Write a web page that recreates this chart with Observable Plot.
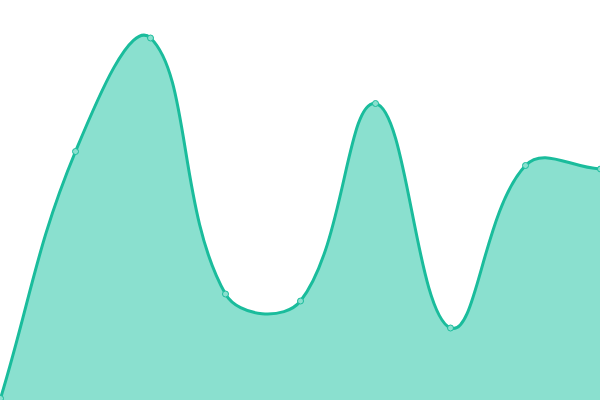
<!DOCTYPE html>
<html><head><meta charset="utf-8">
<script src="https://cdn.jsdelivr.net/npm/d3@7"></script>
<script src="https://cdn.jsdelivr.net/npm/@observablehq/plot@0.6"></script>
<style>html,body{margin:0;padding:0;background:#fff;overflow:hidden}</style>
</head><body><div id="chart"></div>
<script>
const xs = [0, 1, 2, 3, 4, 5, 6, 7, 8];
const values = [2, 249, 362.5, 106.5, 99.5, 297, 72.5, 235, 231.5];
const data = xs.map((x, i) => ({x, y: values[i]}));

// Distance-weighted spline curve (tension 0.4), as a d3-style curve factory
function splineCurve(context) { return new Spline(context); }
function Spline(context) { this._context = context; this._t = 0.4; }
Spline.prototype = {
  areaStart() { this._line = 0; },
  areaEnd() { this._line = NaN; },
  lineStart() { this._pts = []; },
  point(x, y) { this._pts.push([+x, +y]); },
  lineEnd() {
    const p = this._pts, n = p.length, c = this._context, t = this._t;
    if (n) {
      if (this._line) c.lineTo(p[0][0], p[0][1]); else c.moveTo(p[0][0], p[0][1]);
      const cps = p.map((cur, i) => {
        const prev = p[i - 1] || cur, next = p[i + 1] || cur;
        const d01 = Math.hypot(cur[0] - prev[0], cur[1] - prev[1]);
        const d12 = Math.hypot(next[0] - cur[0], next[1] - cur[1]);
        let s01 = d01 / (d01 + d12), s12 = d12 / (d01 + d12);
        if (!isFinite(s01)) s01 = 0; if (!isFinite(s12)) s12 = 0;
        const fa = t * s01, fb = t * s12;
        return {
          prev: [cur[0] - fa * (next[0] - prev[0]), cur[1] - fa * (next[1] - prev[1])],
          next: [cur[0] + fb * (next[0] - prev[0]), cur[1] + fb * (next[1] - prev[1])]
        };
      });
      for (let i = 0; i < n - 1; i++) {
        const a = cps[i].next, b = cps[i + 1].prev;
        c.bezierCurveTo(a[0], Math.max(0, Math.min(400, a[1])), b[0], Math.max(0, Math.min(400, b[1])), p[i + 1][0], p[i + 1][1]);
      }
    }
    if (this._line || (this._line !== 0 && n === 1)) c.closePath();
    this._line = 1 - this._line;
  }
};

const chart = Plot.plot({
  width: 600, height: 400,
  margin: 0,
  x: {domain: [0, 8], range: [0, 600], axis: null},
  y: {domain: [0, 400], range: [400, 0], axis: null},
  marks: [
    Plot.areaY(data, {x: "x", y: "y", curve: splineCurve, fill: "#8ae0cf"}),
    Plot.lineY(data, {x: "x", y: "y", curve: splineCurve, stroke: "#1abc9c", strokeWidth: 3}),
    Plot.dot(data, {x: "x", y: "y", r: 3, fill: "#8ae0cf", stroke: "#1abc9c", strokeWidth: 1})
  ]
});
document.getElementById("chart").appendChild(chart);
</script></body></html>
